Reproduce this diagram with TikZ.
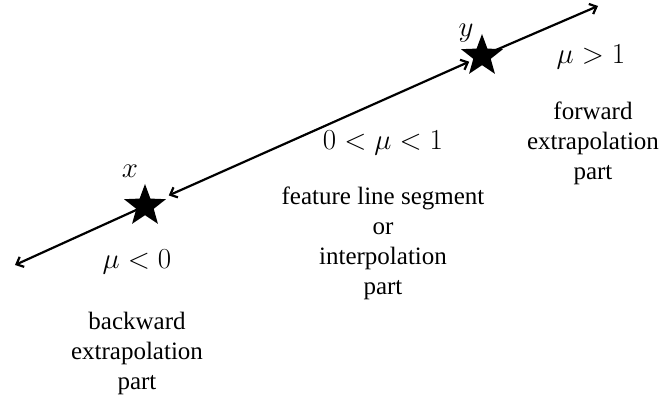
\RequirePackage{fix-cm}
\documentclass[tikz,border=0pt]{standalone}
\usepackage{fontspec}
\setmainfont{Liberation Serif}
\usetikzlibrary{arrows.meta,shapes.geometric}
\begin{document}
\begin{tikzpicture}[
 x=1pt,y=-1pt,
 >={Straight Barb[length=6pt,width=11pt,line width=2.2pt]},
 line/.style={line width=2.2pt},
 point/.style={star,star points=5,star point ratio=2.4,fill,inner sep=0pt,minimum size=44pt},
 every node/.style={font=\fontsize{25}{30}\selectfont},
 mathlab/.style={font=\fontsize{29}{31}\selectfont},
 caption/.style={align=center,inner sep=0pt,anchor=north}]
 \useasboundingbox (0,0) rectangle (661,406);
 % the feature line and its three parts
 \coordinate (lend) at (15,265); \coordinate (rend) at (598,6);
 \coordinate (px) at (145,206); \coordinate (py) at (482,56);
 \draw[line,->] (px) -- (lend);
 \draw[line,<->,shorten <=26pt,shorten >=14pt] (px) -- (py);
 \draw[line,->] (py) -- (rend);
 \node[point] (x) at (px){}; \node[point] (y) at (py){};
 \node[mathlab] (xlab) at (130,171){\(x\)};
 \node[mathlab] (ylab) at (466,33){\(y\)};
 % ranges of mu
 \node[mathlab] (back) at (137,262){\(\mu<0\)};
 \node[mathlab] (inter) at (383,143){\(0<\mu<1\)};
 \node[mathlab] (fwd) at (591,57){\(\mu>1\)};
 \node[caption] (backtxt) at (137,312){backward\\extrapolation\\part};
 \node[caption] (intertxt) at (383,187){feature line segment\\or\\interpolation\\part};
 \node[caption] (fwdtxt) at (593,102){forward\\extrapolation\\part};
\end{tikzpicture}
\end{document}
